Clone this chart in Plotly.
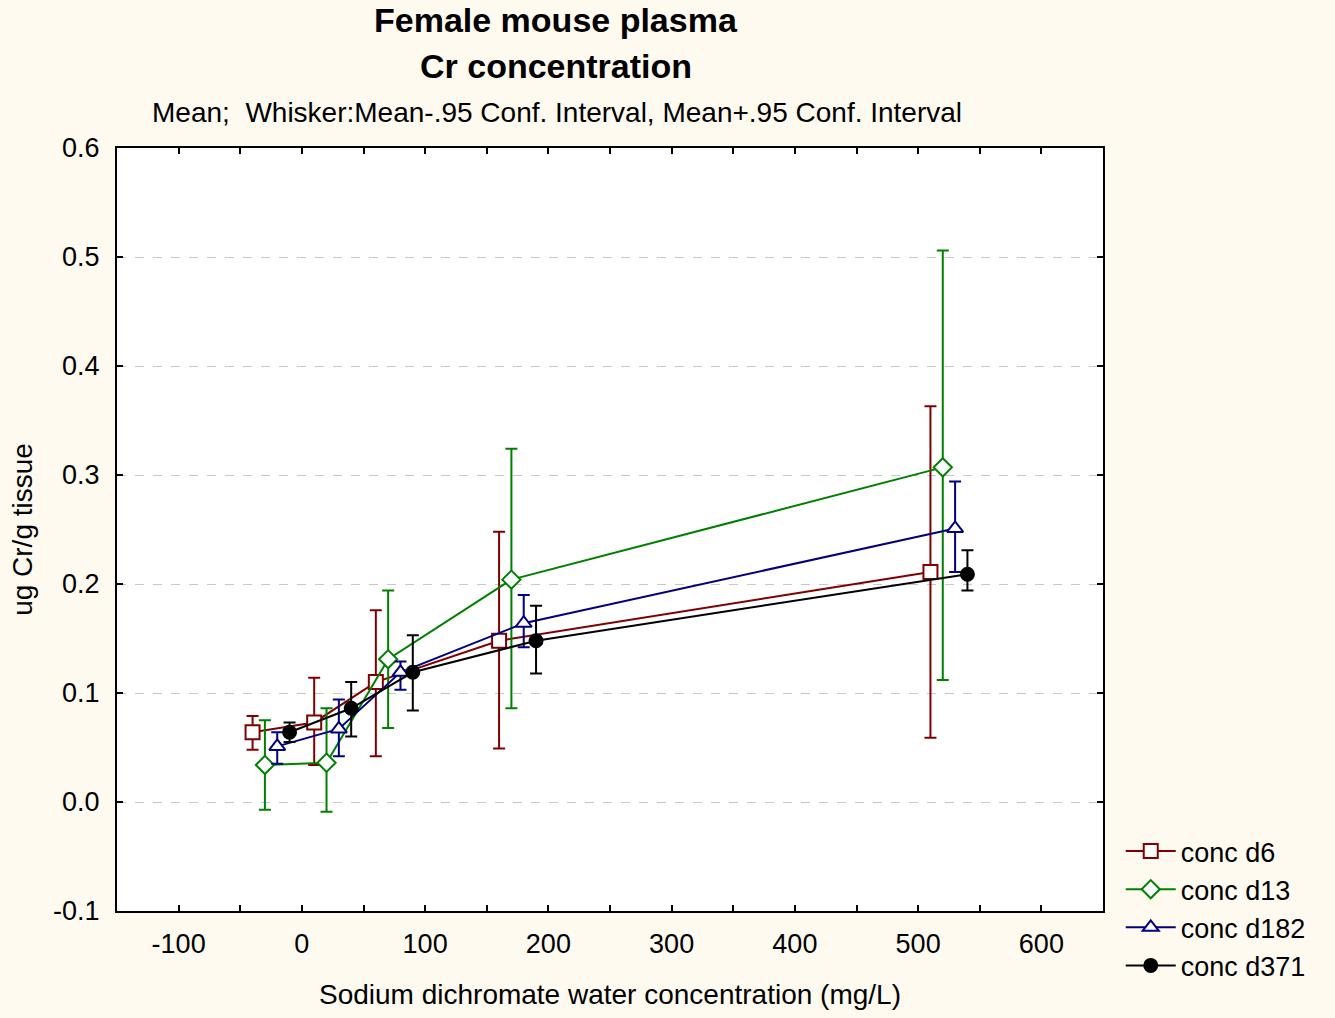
import plotly.graph_objects as go

series_names = ["conc d6", "conc d13", "conc d182", "conc d371"]

x_d6 = [-40, 10, 60, 160, 510]
x_d13 = [-30, 20, 70, 170, 520]
x_d182 = [-20, 30, 80, 180, 530]
x_d371 = [-10, 40, 90, 190, 540]

mean_d6 = [0.064, 0.073, 0.110, 0.148, 0.211]
lo_d6 = [0.048, 0.034, 0.042, 0.049, 0.059]
hi_d6 = [0.079, 0.114, 0.176, 0.248, 0.363]

mean_d13 = [0.034, 0.036, 0.131, 0.204, 0.307]
lo_d13 = [-0.007, -0.009, 0.068, 0.086, 0.112]
hi_d13 = [0.075, 0.086, 0.194, 0.324, 0.506]

mean_d182 = [0.051, 0.067, 0.119, 0.164, 0.251]
lo_d182 = [0.035, 0.042, 0.103, 0.142, 0.211]
hi_d182 = [0.064, 0.094, 0.129, 0.190, 0.294]

mean_d371 = [0.064, 0.086, 0.119, 0.148, 0.209]
lo_d371 = [0.055, 0.060, 0.084, 0.118, 0.194]
hi_d371 = [0.073, 0.110, 0.153, 0.180, 0.231]

x_tickvals = [-100, -50, 0, 50, 100, 150, 200, 250, 300, 350, 400, 450, 500, 550, 600]
x_ticktext = ["-100", "", "0", "", "100", "", "200", "", "300", "", "400", "", "500", "", "600"]
y_tickvals = [-0.1, 0.0, 0.1, 0.2, 0.3, 0.4, 0.5, 0.6]
y_ticktext = ["-0.1", "0.0", "0.1", "0.2", "0.3", "0.4", "0.5", "0.6"]

colors = ["#800000", "#008000", "#000080", "#000000"]
symbols = ["square", "diamond", "triangle-up", "circle"]
fills = ["white", "white", "white", "black"]
sizes = [14, 14, 14, 13]

xs = [x_d6, x_d13, x_d182, x_d371]
means = [mean_d6, mean_d13, mean_d182, mean_d371]
los = [lo_d6, lo_d13, lo_d182, lo_d371]
his = [hi_d6, hi_d13, hi_d182, hi_d371]

fig = go.Figure()
for name, x, m, lo, hi, c, s, f, sz in zip(series_names, xs, means, los, his, colors, symbols, fills, sizes):
    fig.add_trace(go.Scatter(
        x=x, y=m, name=name, mode="lines+markers",
        line=dict(color=c, width=2),
        marker=dict(symbol=s, size=sz, color=f, line=dict(color=c, width=2)),
        error_y=dict(type="data", symmetric=False,
                     array=[h - v for h, v in zip(hi, m)],
                     arrayminus=[v - l for v, l in zip(m, lo)],
                     color=c, thickness=2, width=6),
    ))

font_family = "Liberation Sans, Arial, sans-serif"

fig.update_layout(
    width=1335, height=1018,
    paper_bgcolor="#FFFAF0", plot_bgcolor="white",
    margin=dict(l=117, r=232, t=148, b=107),
    font=dict(family=font_family, color="black", size=27),
    showlegend=True,
    legend=dict(x=1.018, xanchor="left", y=0.11, yanchor="top",
                font=dict(size=27), bgcolor="rgba(0,0,0,0)",
                tracegroupgap=0, itemwidth=50),
    xaxis=dict(range=[-150, 650], tickmode="array", tickvals=x_tickvals, ticktext=x_ticktext,
               ticks="inside", ticklen=6, tickwidth=2, tickcolor="black",
               showline=True, linecolor="black", linewidth=2, mirror="ticks",
               showgrid=False, zeroline=False, ticklabelstandoff=8,
               tickfont=dict(size=27), automargin=False,
               title=dict(text="Sodium dichromate water concentration (mg/L)", font=dict(size=28), standoff=26)),
    yaxis=dict(range=[-0.1, 0.6], tickmode="array", tickvals=y_tickvals, ticktext=y_ticktext,
               ticks="inside", ticklen=6, tickwidth=2, tickcolor="black",
               showline=True, linecolor="black", linewidth=2, mirror="ticks",
               showgrid=True, gridcolor="#C8C8C8", griddash="dash", gridwidth=1,
               zeroline=False, tickfont=dict(size=27), ticklabelstandoff=10,
               automargin=False,
               title=dict(text="ug Cr/g tissue", font=dict(size=28), standoff=12)),
    annotations=[
        dict(text="<b>Female mouse plasma</b>", x=0.445, y=1.0, xref="paper", yref="paper",
             yshift=128, showarrow=False, xanchor="center", yanchor="middle",
             font=dict(size=34)),
        dict(text="<b>Cr concentration</b>", x=0.445, y=1.0, xref="paper", yref="paper",
             yshift=82, showarrow=False, xanchor="center", yanchor="middle",
             font=dict(size=34)),
        dict(text="Mean;  Whisker:Mean-.95 Conf. Interval, Mean+.95 Conf. Interval", x=0.446, y=1.0,
             xref="paper", yref="paper", yshift=36, showarrow=False, xanchor="center", yanchor="middle",
             font=dict(size=28)),
    ],
)

fig.write_html("out.html")
